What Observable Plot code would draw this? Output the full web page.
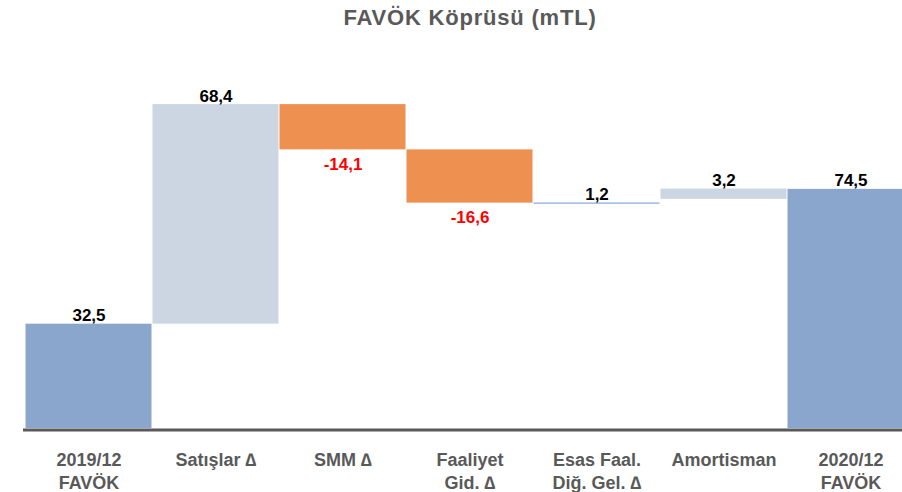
<!DOCTYPE html>
<html>
<head>
<meta charset="utf-8">
<script src="https://cdn.jsdelivr.net/npm/d3@7"></script>
<script src="https://cdn.jsdelivr.net/npm/@observablehq/plot@0.6"></script>
<style>
  html, body { margin: 0; padding: 0; background: #fff; overflow: hidden; }
  #title {
    height: 40px; line-height: 35px; padding-left: 38px; text-align: center;
    font-family: "Liberation Sans", Arial, sans-serif; font-weight: bold;
    font-size: 22px; letter-spacing: 0.8px; color: #595959;
  }
</style>
</head>
<body>
<div id="title">FAVÖK Köprüsü (mTL)</div>
<div id="chart"></div>
<script>
const categories = ["2019/12\nFAVÖK", "Satışlar ∆", "SMM ∆", "Faaliyet\nGid. ∆", "Esas Faal.\nDiğ. Gel. ∆", "Amortisman", "2020/12\nFAVÖK"];
const values = [32.5, 68.4, -14.1, -16.6, 1.2, 3.2, 74.5];
const kinds = ["total", "step", "step", "step", "step", "step", "total"];

let run = 0;
const rows = categories.map((c, i) => {
  let base, top;
  if (kinds[i] === "total") { base = 0; top = values[i]; run = values[i]; }
  else { base = run; top = run + values[i]; run = top; }
  return {cat: c, value: values[i], kind: kinds[i], base, top,
          lo: Math.min(base, top), hi: Math.max(base, top),
          label: values[i].toFixed(1).replace(".", ",")};
});

const colorOf = d => d.kind === "total" ? "#8AA6CD" : d.value < 0 ? "#EE904F" : "#CCD6E3";
const thin = d => d.kind !== "total" && Math.abs(d.value) < 2;

const font = "'Liberation Sans', Arial, sans-serif";
const chart = Plot.plot({
  width: 902, height: 452,
  marginLeft: 23, marginRight: 0, marginTop: 0, marginBottom: 64,
  style: {fontFamily: font, background: "#fff"},
  x: {domain: categories, range: [25, 914], padding: 0},
  y: {domain: [0, 100], range: [388, 67], axis: null},
  marks: [
    Plot.rectY(rows.filter(d => !thin(d)), {x: "cat", y1: "lo", y2: "hi", fill: colorOf, insetLeft: 0.5, insetRight: 0.5}),
    Plot.tickY(rows.filter(thin), {x: "cat", y: "base", stroke: "#8EAADB", strokeWidth: 1.2, insetLeft: 0.5, insetRight: 0.5}),
    Plot.ruleY([0], {stroke: "#595959", strokeWidth: 3, dy: 1.5}),
    Plot.text(rows.filter(d => d.value >= 0), {x: "cat", y: d => thin(d) ? d.base : d.hi, text: "label",
      lineAnchor: "bottom", dy: -3, fontSize: 17, fontWeight: "bold", fill: "#000"}),
    Plot.text(rows.filter(d => d.value < 0), {x: "cat", y: "lo", text: "label",
      lineAnchor: "top", dy: 8, fontSize: 17, fontWeight: "bold", fill: "#FF0000"}),
    Plot.axisX({tickSize: 0, tickPadding: 22, fontSize: 18, fontWeight: "bold", fill: "#595959",
      lineHeight: 1.25, label: null})
  ]
});
document.getElementById("chart").appendChild(chart);
</script>
</body>
</html>
